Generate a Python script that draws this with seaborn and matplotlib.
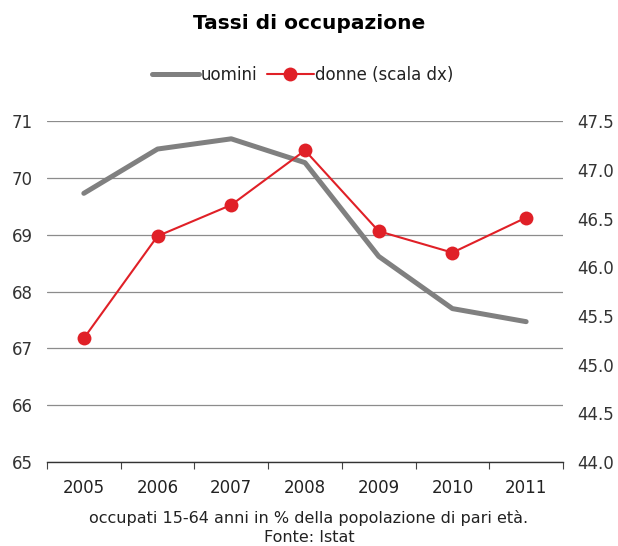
import matplotlib
matplotlib.use("Agg")
import matplotlib.pyplot as plt
import pandas as pd
import seaborn as sns
from matplotlib.ticker import FixedLocator, FormatStrFormatter

# Data
years = ["2005", "2006", "2007", "2008", "2009", "2010", "2011"]
uomini = [69.73, 70.51, 70.69, 70.27, 68.62, 67.70, 67.47]
donne = [45.27, 46.32, 46.64, 47.20, 46.37, 46.15, 46.51]

df = pd.DataFrame({"anno": years, "uomini": uomini, "donne": donne})
df["pos"] = range(len(years))

sns.set_style("white")
plt.rcParams["font.family"] = ["DejaVu Sans"]

fig = plt.figure(figsize=(6.18, 5.46), dpi=100)
ax = fig.add_axes([0.076, 0.154, 0.835, 0.624])
ax2 = ax.twinx()

# gray line on the left axis
sns.lineplot(data=df, x="pos", y="uomini", ax=ax, color="#808080", linewidth=3.6,
             label="uomini", legend=False)
# red line with markers on the right axis
sns.lineplot(data=df, x="pos", y="donne", ax=ax2, color="#e02027", linewidth=1.5,
             marker="o", markersize=10, markeredgewidth=0, label="donne (scala dx)",
             legend=False)

ax.set_xlim(-0.5, 6.5)
ax.set_ylim(65, 71)
ax2.set_ylim(44.0, 47.5)
ax.set_yticks(range(65, 72))
ax2.set_yticks([44.0, 44.5, 45.0, 45.5, 46.0, 46.5, 47.0, 47.5])
ax2.yaxis.set_major_formatter(FormatStrFormatter("%.1f"))

# grid
ax.yaxis.grid(True, color="#8c8c8c", linewidth=0.9)
ax.set_axisbelow(True)

ax.set_xticks(range(len(years)))
ax.set_xticklabels(years)
ax.xaxis.set_minor_locator(FixedLocator([i - 0.5 for i in range(len(years) + 1)]))
ax.tick_params(axis="x", which="major", bottom=True, length=0, labelsize=12,
               colors="#222222", pad=12)
ax.tick_params(axis="x", which="minor", bottom=True, length=5, width=0.8,
               color="#444444", direction="out")
ax.tick_params(axis="y", length=0, labelsize=12, colors="#333333", pad=10)
ax2.tick_params(axis="y", length=0, labelsize=12, colors="#333333", pad=10)

ax.set_xlabel("")
ax.set_ylabel("")
ax2.set_ylabel("")

for a in (ax, ax2):
    for s in ["top", "left", "right", "bottom"]:
        a.spines[s].set_visible(False)
ax.spines["bottom"].set_visible(True)
ax.spines["bottom"].set_color("#333333")
ax.spines["bottom"].set_linewidth(1)

# title and legend
fig.text(0.5, 0.957, "Tassi di occupazione", ha="center", va="center",
         fontsize=14.5, fontweight="bold", color="black")
h1, l1 = ax.get_legend_handles_labels()
h2, l2 = ax2.get_legend_handles_labels()
fig.legend(h1 + h2, l1 + l2, loc="center", bbox_to_anchor=(0.49, 0.863), ncol=2,
           frameon=False, fontsize=12, handlelength=2.8, handletextpad=0.1,
           columnspacing=0.6, labelcolor="#222222")

# footnote
fig.text(0.5, 0.051, "occupati 15-64 anni in % della popolazione di pari età.",
         ha="center", va="center", fontsize=11.5, color="#222222")
fig.text(0.5, 0.015, "Fonte: Istat", ha="center", va="center", fontsize=11.5,
         color="#222222")

fig.savefig("out.png", dpi=100)
